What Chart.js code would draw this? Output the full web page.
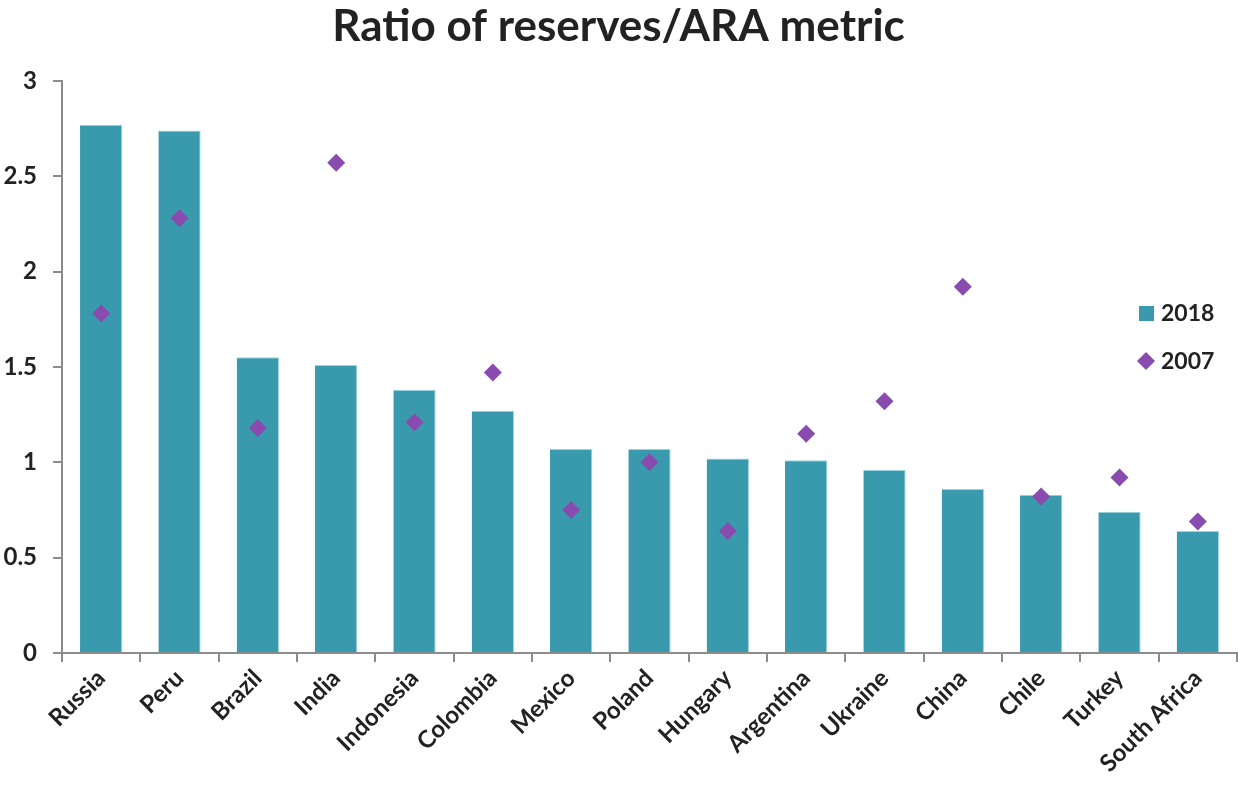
<!DOCTYPE html>
<html>
<head>
<meta charset="utf-8">
<script src="https://cdn.jsdelivr.net/npm/chart.js@4"></script>
<style>
  html, body { margin: 0; padding: 0; background: #fff; }
  #wrap { width: 1238px; height: 792px; }
</style>
</head>
<body>
<div id="wrap"><canvas id="araChart" width="1238" height="792"></canvas></div>
<script>
const countries = ["Russia", "Peru", "Brazil", "India", "Indonesia", "Colombia", "Mexico", "Poland",
  "Hungary", "Argentina", "Ukraine", "China", "Chile", "Turkey", "South Africa"];
const ratio2018 = [2.77, 2.74, 1.55, 1.51, 1.38, 1.27, 1.07, 1.07, 1.02, 1.01, 0.96, 0.86, 0.83, 0.74, 0.64];
const ratio2007 = [1.78, 2.28, 1.18, 2.57, 1.21, 1.47, 0.75, 1.00, 0.64, 1.15, 1.32, 1.92, 0.82, 0.92, 0.69];
const yTicks = [0, 0.5, 1, 1.5, 2, 2.5, 3];

const barColor = "#3A9AAD";
const dotColor = "#8A4BAF";
const textColor = "#222222";
const axisColor = "#8c8c8c";
const fontFamily = "Lato, 'Open Sans', sans-serif";

// small vertical legend drawn inside the plot, right side
const sideLegend = {
  id: "sideLegend",
  afterDraw(chart) {
    const ctx = chart.ctx;
    ctx.save();
    ctx.font = "bold 23px " + fontFamily;
    ctx.textBaseline = "middle";
    ctx.textAlign = "left";

    ctx.fillStyle = barColor;
    ctx.fillRect(1139, 306, 15, 15);
    ctx.fillStyle = textColor;
    ctx.fillText("2018", 1161, 314);

    ctx.fillStyle = dotColor;
    ctx.beginPath();
    ctx.moveTo(1146, 352);
    ctx.lineTo(1155, 361);
    ctx.lineTo(1146, 370);
    ctx.lineTo(1137, 361);
    ctx.closePath();
    ctx.fill();
    ctx.fillStyle = textColor;
    ctx.fillText("2007", 1161, 362);
    ctx.restore();
  }
};

const data = {
  labels: countries,
  datasets: [
    {
      type: "scatter",
      label: "2007",
      data: ratio2007,
      showLine: false,
      pointStyle: "rectRot",
      pointRadius: 9,
      pointHoverRadius: 9,
      backgroundColor: dotColor,
      borderColor: dotColor,
      borderWidth: 0,
      order: 0
    },
    {
      type: "bar",
      label: "2018",
      data: ratio2018,
      backgroundColor: barColor,
      borderColor: "#9fd3dd",
      borderWidth: { top: 1, left: 0, right: 1, bottom: 0 },
      categoryPercentage: 1,
      barPercentage: 0.54,
      order: 1
    }
  ]
};

const config = {
  data: data,
  options: {
    responsive: false,
    animation: false,
    layout: { autoPadding: false, padding: { left: 0, right: 1, top: 0, bottom: 0 } },
    scales: {
      x: {
        type: "category",
        offset: true,
        border: { color: axisColor, width: 2 },
        grid: {
          offset: true,
          drawOnChartArea: false,
          drawTicks: true,
          tickLength: 9,
          color: axisColor,
          lineWidth: 2
        },
        ticks: {
          color: textColor,
          font: { family: fontFamily, size: 24, weight: "bold" },
          minRotation: 45,
          maxRotation: 45,
          autoSkip: false,
          padding: 2
        },
        afterFit(scale) {
          scale.height = 139;
          scale.paddingLeft = 0;
          scale.paddingRight = 0;
        }
      },
      y: {
        min: 0,
        max: 3,
        border: { color: axisColor, width: 2 },
        grid: {
          drawOnChartArea: false,
          drawTicks: true,
          tickLength: 9,
          color: axisColor,
          lineWidth: 2
        },
        afterBuildTicks(scale) {
          scale.ticks = yTicks.map(v => ({ value: v }));
        },
        ticks: {
          color: textColor,
          font: { family: fontFamily, size: 24, weight: "bold" },
          padding: 16,
          callback: v => String(v)
        },
        afterFit(scale) {
          scale.width = 62;
          scale.paddingTop = 0;
          scale.paddingBottom = 0;
        }
      }
    },
    plugins: {
      legend: { display: false },
      tooltip: { enabled: false },
      title: {
        display: true,
        text: "Ratio of reserves/ARA metric",
        color: textColor,
        font: { family: fontFamily, size: 44, weight: "bold" },
        padding: { top: 0, bottom: 28 }
      }
    }
  },
  plugins: [sideLegend]
};

const ctx = document.getElementById("araChart").getContext("2d");
new Chart(ctx, config);
</script>
</body>
</html>
